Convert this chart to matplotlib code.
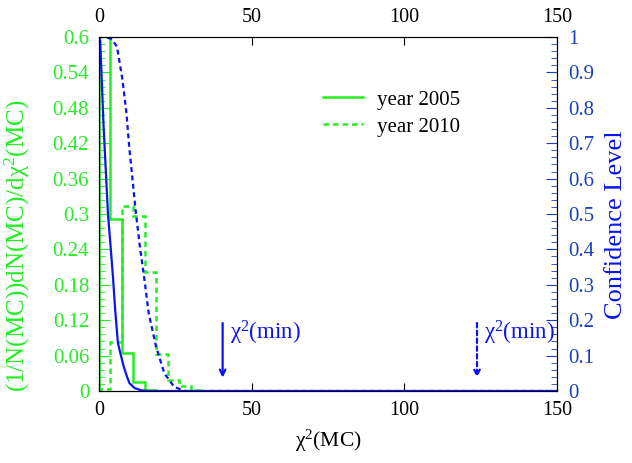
import matplotlib
matplotlib.use('Agg')
import matplotlib.pyplot as plt
import numpy as np
from matplotlib.ticker import MultipleLocator, FormatStrFormatter

plt.rcParams['font.family'] = ['Liberation Serif', 'DejaVu Serif']
plt.rcParams['mathtext.fontset'] = 'custom'
plt.rcParams['mathtext.rm'] = 'Liberation Serif'
plt.rcParams['mathtext.it'] = 'Liberation Serif:italic'

GREEN = '#22ee22'
BLUE = '#0a14f0'
BLUE_TICK = '#1a40c0'

# histogram of chi2(MC), bin width 3.75
bin_width = 3.75
hist_2005 = [0.75, 0.292, 0.064, 0.015, 0.002, 0.0]
hist_2010 = [0.003, 0.083, 0.314, 0.296, 0.202, 0.0625, 0.0186, 0.008, 0.002, 0.0]

# confidence level curves
cl_x_2005 = [0, 0.4, 1.5, 2.95, 3.7, 4.6, 5.3, 6.2, 7.0, 8.1, 9.2, 10.0, 11.7, 13.9, 16, 150]
cl_y_2005 = [1.0, 0.99, 0.75, 0.50, 0.42, 0.32, 0.23, 0.136, 0.107, 0.069, 0.04, 0.022, 0.008, 0.002, 0.0, 0.0]
cl_x_2010 = [0, 2, 4, 5.9, 7.7, 9.0, 9.9, 11.0, 12.1, 13.4, 14.9, 16.3, 18.7, 21.4, 24.6, 28, 150]
cl_y_2010 = [1.0, 1.0, 0.995, 0.973, 0.879, 0.785, 0.69, 0.596, 0.502, 0.408, 0.314, 0.219, 0.125, 0.05, 0.012, 0.0, 0.0]

# chi2(min) markers
chi2min_2005 = 40.5
chi2min_2010 = 123.8

CHI = r'$\mathrm{\chi}^{2}$'

fig = plt.figure(figsize=(6.32, 4.63), dpi=100)
ax = fig.add_axes([0.1566, 0.1555, 0.7247, 0.7645])
ax2 = ax.twinx()

edges05 = np.arange(len(hist_2005) + 1) * bin_width
edges10 = np.arange(len(hist_2010) + 1) * bin_width
ax.stairs(hist_2005, edges05, color=GREEN, lw=1.8, label='year 2005')
ax.stairs(hist_2010, edges10, color=GREEN, lw=1.8, ls=(0, (2.2, 1.6)), label='year 2010')

ax2.plot(cl_x_2005, cl_y_2005, color=BLUE, lw=1.6)
ax2.plot(cl_x_2010, cl_y_2010, color=BLUE, lw=1.6, ls=(0, (2.2, 1.6)))

ax.set_xlim(0, 150)
ax.set_ylim(0, 0.6)
ax2.set_ylim(0, 1)

ax.xaxis.set_major_locator(MultipleLocator(50))
ax.yaxis.set_major_locator(MultipleLocator(0.06))
ax.yaxis.set_minor_locator(MultipleLocator(0.012))
ax.yaxis.set_major_formatter(FormatStrFormatter('%g'))
ax2.yaxis.set_major_locator(MultipleLocator(0.1))
ax2.yaxis.set_minor_locator(MultipleLocator(0.02))
ax2.yaxis.set_major_formatter(FormatStrFormatter('%g'))

ax.tick_params(axis='x', direction='in', top=True, labeltop=True, length=6,
               labelsize=14.5, pad=7)
ax.tick_params(axis='y', which='major', direction='in', length=8, color=GREEN,
               labelcolor=GREEN, labelsize=15, pad=7)
ax.tick_params(axis='y', which='minor', direction='in', length=4, color=GREEN)
ax2.tick_params(axis='y', which='major', direction='in', length=8, color=BLUE_TICK,
                labelcolor=BLUE_TICK, labelsize=15, pad=8)
ax2.tick_params(axis='y', which='minor', direction='in', length=4, color=BLUE_TICK)

ax.set_xlabel(CHI + '(MC)', fontsize=15.5, labelpad=6)
ax.set_ylabel('(1/N(MC))dN(MC)/d' + CHI + '(MC)', color=GREEN, fontsize=18)
ax.yaxis.set_label_coords(-0.146, 0.41)
ax2.set_ylabel('Confidence Level', color=BLUE, fontsize=19)
ax2.yaxis.set_label_coords(1.105, 0.47)

ax2.annotate('', xy=(chi2min_2005, 0.03), xytext=(chi2min_2005, 0.2),
             arrowprops=dict(arrowstyle='->', color=BLUE, lw=1.6))
ax2.text(chi2min_2005 + 2.3, 0.165, CHI + '(min)', color=BLUE, fontsize=16.5, va='center')
ax2.annotate('', xy=(chi2min_2010, 0.03), xytext=(chi2min_2010, 0.2),
             arrowprops=dict(arrowstyle='->', color=BLUE, lw=1.6, ls=(0, (2, 1.5))))
ax2.text(chi2min_2010 + 2.3, 0.165, CHI + '(min)', color=BLUE, fontsize=16.5, va='center')

ax.legend(loc='upper left', bbox_to_anchor=(0.489, 0.85), frameon=False,
          borderpad=0, borderaxespad=0, handlelength=1.9, handletextpad=0.7,
          fontsize=15, labelspacing=0.35)

fig.savefig('out.png', dpi=100)
